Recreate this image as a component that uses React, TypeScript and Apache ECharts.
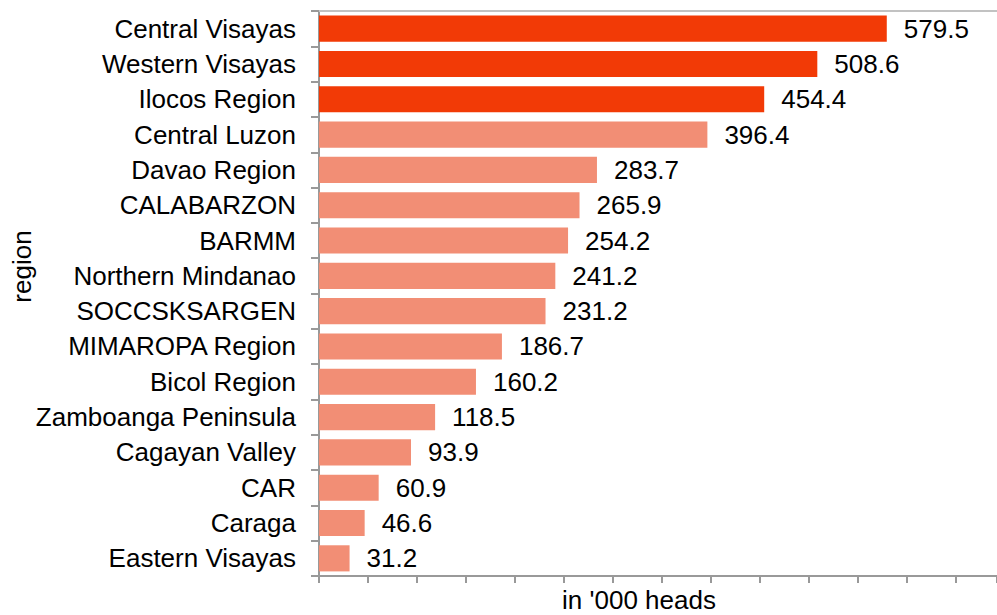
import React, { useEffect, useRef } from "react";
import * as echarts from "echarts";

const categories = [
  "Central Visayas",
  "Western Visayas",
  "Ilocos Region",
  "Central Luzon",
  "Davao Region",
  "CALABARZON",
  "BARMM",
  "Northern Mindanao",
  "SOCCSKSARGEN",
  "MIMAROPA Region",
  "Bicol Region",
  "Zamboanga Peninsula",
  "Cagayan Valley",
  "CAR",
  "Caraga",
  "Eastern Visayas",
];

const values = [
  579.5, 508.6, 454.4, 396.4, 283.7, 265.9, 254.2, 241.2, 231.2, 186.7, 160.2,
  118.5, 93.9, 60.9, 46.6, 31.2,
];

const highlighted = ["Central Visayas", "Western Visayas", "Ilocos Region"];

const xName = "in '000 heads";
const yName = "region";

const HIGHLIGHT = "#F23A06";
const BASE = "#F28E75";
const FONT = "Liberation Sans, Arial, sans-serif";
const FS = 26;

export default function App() {
  const ref = useRef<HTMLDivElement>(null);

  useEffect(() => {
    if (!ref.current) return;
    const chart = echarts.init(ref.current, null, { renderer: "svg" });
    chart.setOption({
      animation: false,
      backgroundColor: "#ffffff",
      textStyle: { fontFamily: FONT },
      grid: {
        left: 319,
        right: 0,
        top: 11,
        bottom: 39,
        containLabel: false,
        outerBoundsMode: "none",
      },
      xAxis: [
        {
          type: "value",
          position: "bottom",
          min: 0,
          max: 692,
          interval: 50,
          name: xName,
          nameLocation: "middle",
          nameGap: 12,
          nameMoveOverlap: false,
          nameTextStyle: {
            fontSize: FS,
            lineHeight: 24,
            color: "#000",
            fontFamily: FONT,
            padding: [0, 38, 0, 0],
          },
          axisLine: { show: true, lineStyle: { color: "#999", width: 2 } },
          axisTick: { show: true, length: 7, lineStyle: { color: "#999", width: 2 } },
          axisLabel: { show: false },
          splitLine: { show: false },
        },
        {
          type: "value",
          position: "top",
          min: 0,
          max: 692,
          axisLine: { show: true, lineStyle: { color: "#c2c2c2", width: 2 } },
          axisTick: { show: false },
          axisLabel: { show: false },
          splitLine: { show: false },
        },
      ],
      yAxis: {
        type: "category",
        data: categories,
        inverse: true,
        name: yName,
        nameLocation: "middle",
        nameRotate: 90,
        nameGap: 284,
        nameMoveOverlap: false,
        nameTextStyle: {
          fontSize: FS,
          lineHeight: 26,
          color: "#000",
          fontFamily: FONT,
          padding: [0, 0, 0, 54],
        },
        axisLine: { show: true, lineStyle: { color: "#999", width: 2 } },
        axisTick: { show: true, length: 8, lineStyle: { color: "#999", width: 2 } },
        axisLabel: {
          margin: 23,
          fontSize: FS,
          color: "#000",
          fontFamily: FONT,
        },
        splitLine: { show: false },
      },
      series: [
        {
          type: "bar",
          xAxisIndex: 0,
          barCategoryGap: "26%",
          data: values.map((v, i) => ({
            value: v,
            itemStyle: {
              color: highlighted.includes(categories[i]) ? HIGHLIGHT : BASE,
            },
          })),
          label: {
            show: true,
            position: "right",
            distance: 17,
            fontSize: FS,
            color: "#000",
            fontFamily: FONT,
            formatter: (p: any) => Number(p.value).toFixed(1),
          },
        },
      ],
    });
    return () => chart.dispose();
  }, []);

  return (
    <div
      ref={ref}
      style={{ position: "fixed", left: 0, top: 0, width: 997, height: 615 }}
    />
  );
}
